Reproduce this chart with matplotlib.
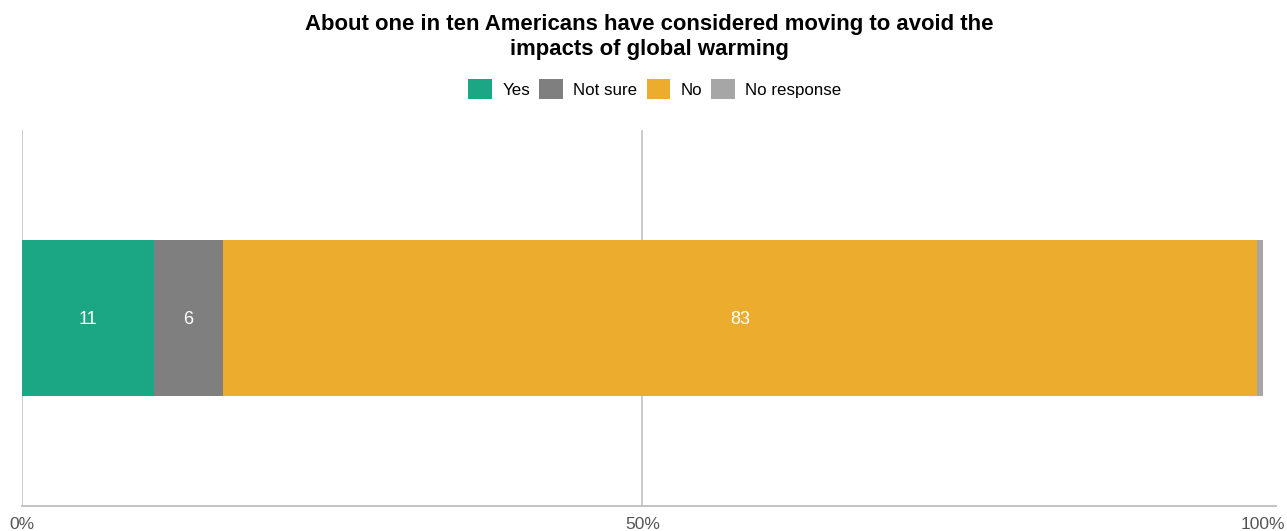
import matplotlib
matplotlib.use("Agg")
import matplotlib.pyplot as plt
from matplotlib.patches import Patch

categories = ["Yes", "Not sure", "No", "No response"]
values = [10.6, 5.6, 83.3, 0.5]
labels = ["11", "6", "83", ""]
colors = ["#1ca784", "#7f7f7f", "#ecac2e", "#a6a6a6"]
xticks = [0, 50, 100]
xticklabels = ["0%", "50%", "100%"]
title = "About one in ten Americans have considered moving to avoid the\nimpacts of global warming"

plt.rcParams['font.family'] = ['Liberation Sans', 'DejaVu Sans']

fig = plt.figure(figsize=(12.87, 5.31), dpi=100)
W, H = 1287, 531
ax = fig.add_axes([22 / W, 25 / H, (1276 - 22) / W, (506 - 130) / H])

left = 0
for cat, v, lab, c in zip(categories, values, labels, colors):
    ax.barh(0, v, left=left, height=0.83, color=c, zorder=3)
    if lab:
        ax.text(left + v / 2, -0.01, lab, ha="center", va="center", color="white", fontsize=13, zorder=4)
    left += v

ax.set_xlim(0, 101.05)
ax.set_ylim(-1, 1)
ax.set_yticks([])
ax.set_xticks(xticks)
ax.set_xticklabels(xticklabels, color="#555555", fontsize=12.5)
ax.tick_params(axis="x", length=0, pad=8)
for xv in xticks[:2]:
    ax.axvline(xv, color="#c8c8c8", lw=1.3, zorder=1)
for s in ["top", "right", "left"]:
    ax.spines[s].set_visible(False)
ax.spines["bottom"].set_color("#bdbdbd")
ax.spines["bottom"].set_linewidth(1.3)

fig.text(649 / W, 1 - 37 / H, title, ha="center", va="center", fontsize=15.9, fontweight="bold", linespacing=1.2)

handles = [Patch(facecolor=c, edgecolor="none") for c in colors]
fig.legend(handles, categories, loc="center", bbox_to_anchor=(655 / W, 1 - 89 / H), ncol=4, frameon=False,
           fontsize=12.2, handlelength=1.4, handleheight=1.4, handletextpad=0.6, columnspacing=0.55)

fig.savefig("out.png", dpi=100)
